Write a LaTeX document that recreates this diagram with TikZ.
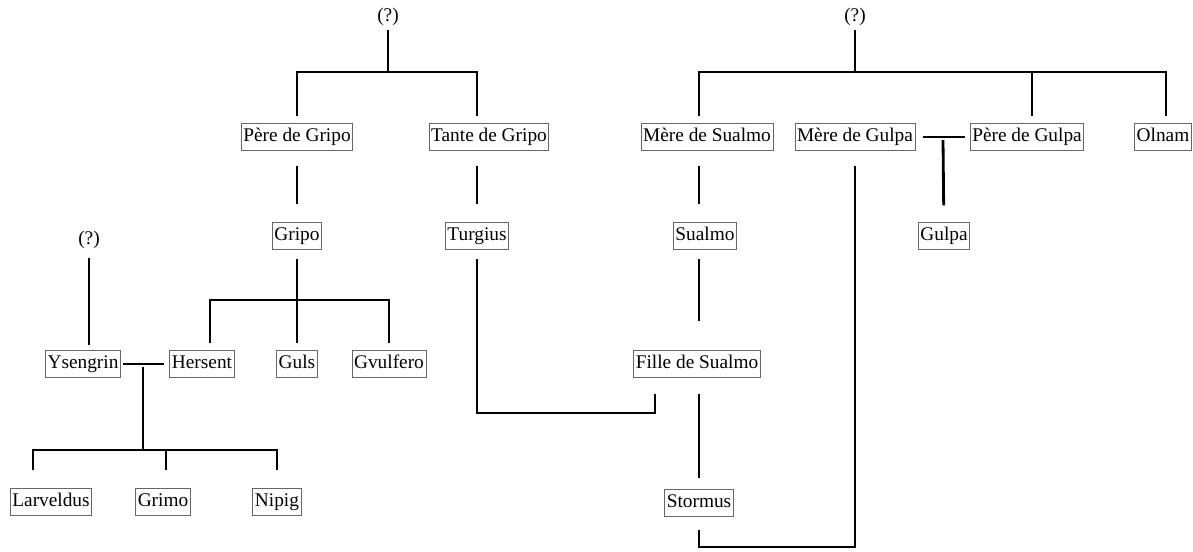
\documentclass[tikz,border=0pt]{standalone}
\usepackage{fontspec}
\setmainfont{Liberation Serif}

\tikzset{
  person/.style={draw=black!60, line width=0.5pt, inner xsep=1.2pt, inner ysep=2.2pt,
    text height=8pt, text depth=2.6pt, font=\fontsize{11}{13}\selectfont},
  unknown/.style={inner xsep=1pt, inner ysep=2pt, text height=8pt, text depth=2.6pt,
    font=\fontsize{11}{13}\selectfont},
  link/.style={line width=1.6pt},
}

\begin{document}
\begin{tikzpicture}[x=0.02cm, y=-0.02cm]
\useasboundingbox (0,0) rectangle (1193,551);

% Gripo's side
\node[unknown] (q1) at (388,17) {(?)};
\node[person] (pg) at (297,137) {Père de Gripo};
\node[person] (tg) at (489,137) {Tante de Gripo};
\node[person] (gr) at (297,236) {Gripo};
\node[person] (tu) at (477,236) {Turgius};
\node[person] (he) at (202,364) {Hersent};
\node[person] (gus) at (297,364) {Guls};
\node[person] (gv) at (389,364) {Gvulfero};

% Ysengrin's side
\node[unknown] (q3) at (89,240) {(?)};
\node[person] (ys) at (83,364) {Ysengrin};
\node[person] (la) at (51,502) {Larveldus};
\node[person] (gm) at (163,502) {Grimo};
\node[person] (np) at (277,502) {Nipig};

% Sualmo's and Gulpa's side
\node[unknown] (q2) at (855,17) {(?)};
\node[person] (ms) at (707,137) {Mère de Sualmo};
\node[person] (mg) at (855,137) {Mère de Gulpa};
\node[person] (pgu) at (1027,137) {Père de Gulpa};
\node[person] (ol) at (1163,137) {Olnam};
\node[person] (su) at (705,236) {Sualmo};
\node[person] (gu) at (944,236) {Gulpa};
\node[person] (fs) at (697,364) {Fille de Sualmo};
\node[person] (st) at (699,503) {Stormus};

% junctions
\coordinate (j1) at (388,72);
\coordinate (j2) at (297,300);
\coordinate (j3) at (143,450);
\coordinate (j4) at (855,72);
\coordinate (j5) at (655,413);
\coordinate (j6) at (855,547);
\coordinate (m1) at (143,367);
\coordinate (m2) at (943,140);

% links, left
\draw[link] (q1) -- (j1);
\draw[link, shorten >=1.4mm] (j1) -| (pg);
\draw[link, shorten >=1.4mm] (j1) -| (tg.north -| tu);
\draw[link, shorten <=3mm, shorten >=3.6mm] (pg) -- (gr);
\draw[link, shorten <=3mm, shorten >=3.6mm] (tg.south -| tu) -- (tu);
\draw[link, shorten <=1.8mm, shorten >=1.4mm] (gr) -- (gus);
\draw[link, shorten <=1.4mm, shorten >=1.4mm] ([xshift=1.6mm]he.north) |- (j2) -| (gv);

\draw[link, shorten <=1mm, shorten >=1mm] (q3) -- (q3 |- ys.north);
\draw[link, yshift=-0.6mm, shorten <=0.4mm, shorten >=1mm] (ys) -- (he);
\draw[link] (m1) -- (j3);
\draw[link, shorten >=3.6mm] (j3) -| ([xshift=-3.6mm]la.north);
\draw[link, shorten >=3.6mm] (j3) -| ([xshift=0.6mm]gm.north);
\draw[link, shorten >=3.6mm] (j3) -| (np);

% links, right
\draw[link] (q2) -- (j4);
\draw[link, shorten >=1.4mm] (j4) -| (ms.north -| st);
\draw[link, shorten >=1.4mm] (j4) -| ([xshift=1mm]pgu.north);
\draw[link, shorten >=1.4mm] (j4) -| ([xshift=0.6mm]ol.north);
\draw[link, shorten <=3mm, shorten >=3.6mm] (ms.south -| st) -- (su.north -| st);
\draw[link, shorten <=1.8mm, shorten >=5.8mm] (su.south -| st) -- (fs.north -| st);
\draw[link, shorten <=3.2mm, shorten >=2.2mm] (fs.south -| st) -- (st);
\draw[link, shorten <=1.8mm, shorten >=3.2mm] (tu) |- (j5) -- (fs.south -| j5);
\draw[link, shorten <=2.6mm, shorten >=3mm] (st) |- (j6) -- (mg);
\draw[link, yshift=-0.6mm, shorten <=1.4mm, shorten >=1mm] (mg) -- (pgu);
\draw[link, shorten >=3.4mm] (m2) -- (gu);

\end{tikzpicture}
\end{document}
